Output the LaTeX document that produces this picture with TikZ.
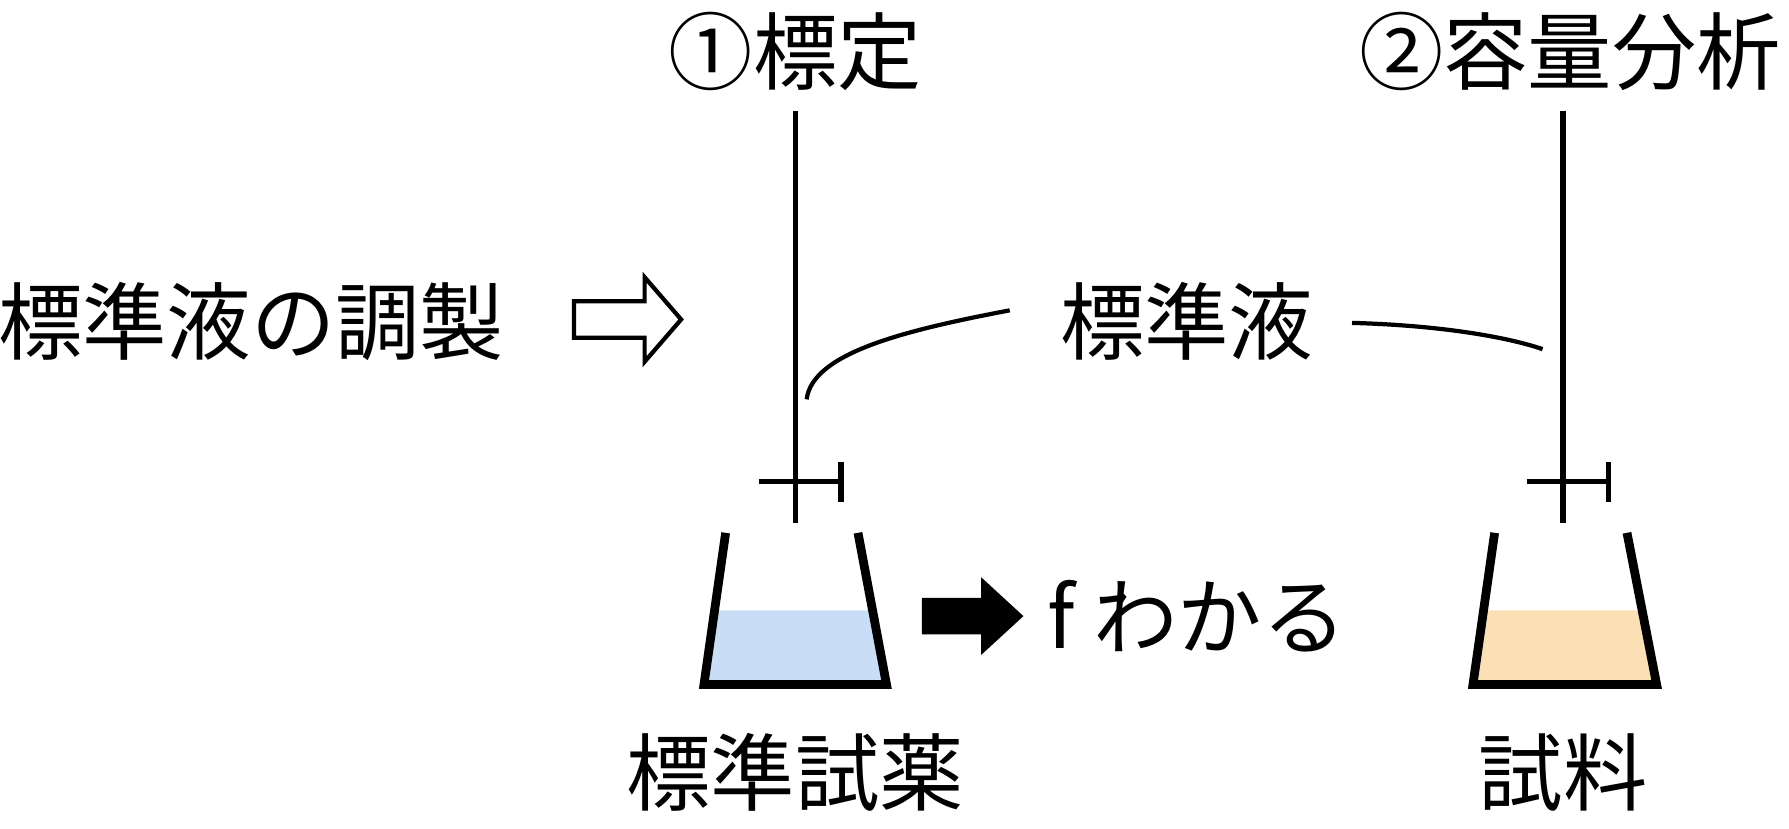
\documentclass[tikz,border=0pt]{standalone}
\usepackage{fontspec}
\setmainfont{Noto Sans CJK JP}
\usetikzlibrary{arrows.meta}
\definecolor{standardBlue}{HTML}{C9DDF7}
\definecolor{sampleOrange}{HTML}{FBE0B5}
\tikzset{
	label text/.style={font=\fontsize{24}{28}\selectfont, inner sep=0pt},
	burette/.style={line width=1.5pt},
	flask/.style={line width=2.5pt, line join=miter},
}
\begin{document}
\begin{tikzpicture}[x=0.01141cm, y=-0.01141cm]
		
		\useasboundingbox (0,0) rectangle (1568,726);
		
		%Titles
		\node (firstTitle) at (697,45) [label text] {①標定};
		\node (secondTitle) at (1376,45) [label text] {②容量分析};
		
		%Burettes
		\coordinate (firstTop) at (697,97);
		\coordinate (firstTip) at (697,458);
		\coordinate (secondTop) at (1370,97);
		\coordinate (secondTip) at (1370,458);
		\draw[burette] (firstTop) -- (firstTip);
		\draw[burette] (665,422) -- (737,422);
		\draw[burette] (737,405) -- (737,440);
		\draw[burette] (secondTop) -- (secondTip);
		\draw[burette] (1338,422) -- (1410,422);
		\draw[burette] (1410,405) -- (1410,440);
		
		%Flasks
		\fill[standardBlue] (627.3,535) -- (617,600) -- (777,600) -- (765.7,535) -- cycle;
		\draw[flask] (636,467) -- (617,600) -- (777,600) -- (752,467);
		\fill[sampleOrange] (1300.3,535) -- (1291,600) -- (1452,600) -- (1439.4,535) -- cycle;
		\draw[flask] (1310,467) -- (1291,600) -- (1452,600) -- (1426,467);
		
		%Labels
		\node (firstReagent) at (697,677) [label text] {標準試薬};
		\node (secondSample) at (1370,677) [label text] {試料};
		\node (preparation) at (220,282) [label text] {標準液の調製};
		\node (standardSolution) at (1040,282) [label text] {標準液};
		\node (factorKnown) at (1049,540) [label text] {f わかる};
		
		%Arrows
		\draw[line width=1.2pt, line join=miter] (503,264) -- (565,264) -- (565,243) -- (597,280) -- (565,317) -- (565,296) -- (503,296) -- cycle;
		\fill[black] (808,524) -- (860,524) -- (860,506) -- (897,540) -- (860,574) -- (860,556) -- (808,556) -- cycle;
		
		%Leaders
		\draw[line width=1.2pt] (707,350) .. controls (712,310) and (790,290) .. (885,272);
		\draw[line width=1.2pt] (1185,283) .. controls (1260,285) and (1320,295) .. (1352,306);
		
\end{tikzpicture}
\end{document}
